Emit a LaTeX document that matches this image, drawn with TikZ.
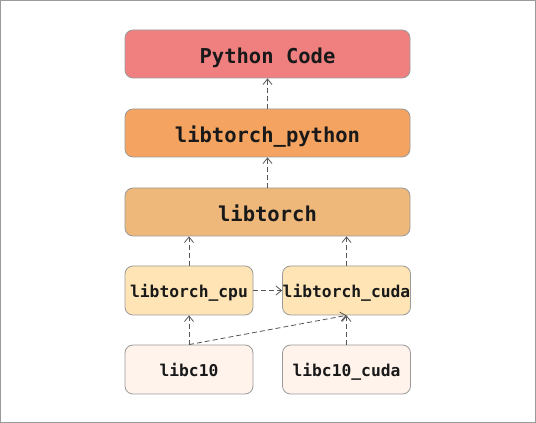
\documentclass[tikz,border=0pt]{standalone}
\usepackage{fontspec}
\setmonofont{DejaVu Sans Mono}
\usetikzlibrary{arrows.meta}
\definecolor{cPy}{HTML}{F08080}
\definecolor{cTp}{HTML}{F4A460}
\definecolor{cLt}{HTML}{EEB87A}
\definecolor{cMid}{HTML}{FFE4B5}
\definecolor{cLow}{HTML}{FFF3EC}
\definecolor{cEdge}{HTML}{9A9A9A}
\definecolor{cLine}{HTML}{555555}
\begin{document}
\begin{tikzpicture}[x=1pt,y=1pt,
  box/.style={draw=cEdge, line width=0.8pt, rounded corners=8pt, inner sep=0pt, text=black!90, text depth=0pt},
  wide/.style={box, minimum width=285pt, minimum height=48pt, text height=19pt, font=\fontsize{20.5}{24}\selectfont\ttfamily\bfseries},
  small/.style={box, minimum width=128pt, minimum height=49pt, text height=15pt, font=\fontsize{16.3}{19}\selectfont\ttfamily\bfseries},
  dep/.style={draw=cLine, line width=0.8pt, dash pattern=on 5pt off 3pt, -{Straight Barb[length=5.5pt,width=9pt]}}]
\draw[draw=cEdge, line width=1pt, fill=white] (0.5,0.5) rectangle (535.5,422.5);
\useasboundingbox (0,0) rectangle (536,423);
\node[wide, fill=cPy] (py) at (267.5,369) {Python Code};
\node[wide, fill=cTp] (tp) at (267.5,290) {libtorch\_python};
\node[wide, fill=cLt] (lt) at (267.5,211) {libtorch};
\node[small, fill=cMid] (cpu) at (189,132.5) {libtorch\_cpu};
\node[small, fill=cMid] (cuda) at (346.5,132.5) {libtorch\_cuda};
\node[small, fill=cLow] (c10) at (189,53.5) {libc10};
\node[small, fill=cLow] (c10c) at (346.5,53.5) {libc10\_cuda};
\draw[dep] (tp.north) -- (py.south);
\draw[dep] (lt.north) -- (tp.south);
\draw[dep] (cpu.north) -- (cpu.north |- lt.south);
\draw[dep] (cuda.north) -- (cuda.north |- lt.south);
\draw[dep] (cpu.east) -- (cuda.west);
\draw[dep] (c10.north) -- (cpu.south);
\draw[dep] (c10.north) -- (cuda.south);
\draw[dep] (c10c.north) -- (cuda.south);
\end{tikzpicture}
\end{document}
